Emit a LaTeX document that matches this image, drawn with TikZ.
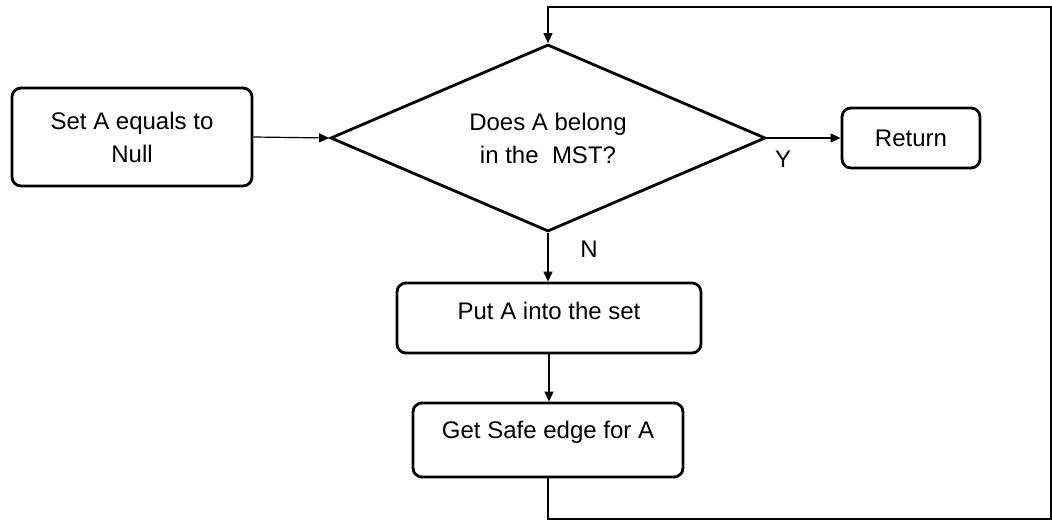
\documentclass[tikz,border=0pt]{standalone}
\usepackage{fontspec}
\setmainfont{Liberation Sans}
\usetikzlibrary{shapes.geometric,arrows.meta}
\begin{document}
\begin{tikzpicture}[x=1pt,y=-1pt,
  box/.style={draw, line width=2.8pt, rounded corners=9pt, inner sep=0pt},
  txt/.style={font=\fontsize{24}{33}\selectfont, align=center, inner sep=0pt},
  conn/.style={line width=1.2pt, -{Triangle[length=10pt,width=9pt]}}]
\useasboundingbox (0,0) rectangle (1052,521);
% boxes
\node[box, txt, minimum width=240pt, minimum height=98pt] (set) at (132,137) {Set A equals to\\Null};
\node[draw, diamond, aspect=2.3, line width=2.8pt, txt, minimum width=435pt, minimum height=187pt] (dec) at (548,138) {Does A belong\\in the~ MST?};
\node[box, txt, minimum width=138pt, minimum height=60pt] (ret) at (911,138) {Return};
\node[box, minimum width=304pt, minimum height=70pt] (put) at (549,318) {};
\node[txt] (puttxt) at (549,311) {Put A into the set};
\node[box, minimum width=270pt, minimum height=74pt] (get) at (548,440) {};
\node[txt] (gettxt) at (548,432) {Get Safe edge for A};
% labels
\node[txt] (ylab) at (783,159) {Y};
\node[txt] (nlab) at (589,249) {N};
% connectors
\draw[conn] (set.east) -- (dec.west);
\draw[conn] (dec.east) -- (ret.west);
\draw[conn] (dec.south) -- (dec.south |- put.north);
\draw[conn] (put.south) -- (put.south |- get.north);
\coordinate (br) at (1051,519);
\coordinate (tr) at (1051,7);
\draw[conn] (get.south) -- (get.south |- br) -- (br) -- (tr) -- (dec.north |- tr) -- (dec.north);
\end{tikzpicture}
\end{document}
